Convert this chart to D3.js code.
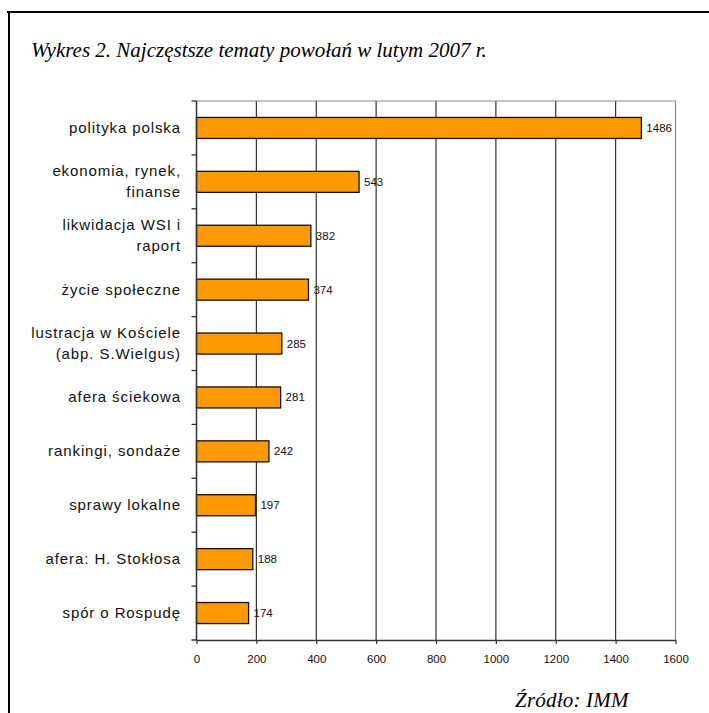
<!DOCTYPE html>
<html><head><meta charset="utf-8">
<script src="https://cdn.jsdelivr.net/npm/d3@7"></script>
<style>body{margin:0;background:#fff}svg{display:block}</style>
</head><body>
<script>
const categories = [
  ["polityka polska"],
  ["ekonomia, rynek,", "finanse"],
  ["likwidacja WSI i", "raport"],
  ["życie społeczne"],
  ["lustracja w Kościele", "(abp. S.Wielgus)"],
  ["afera ściekowa"],
  ["rankingi, sondaże"],
  ["sprawy lokalne"],
  ["afera: H. Stokłosa"],
  ["spór o Rospudę"]
];
const values = [1486, 543, 382, 374, 285, 281, 242, 197, 188, 174];
const xTicks = [0, 200, 400, 600, 800, 1000, 1200, 1400, 1600];
const title = "Wykres 2. Najczęstsze tematy powołań w lutym 2007 r.";
const source = "Źródło: IMM";

(function () {
const W = 709, H = 713;
const svg = d3.select("body").append("svg").attr("width", W).attr("height", H);

// frame
svg.append("line").attr("x1", 7).attr("x2", W).attr("y1", 12).attr("y2", 12).attr("stroke", "#000").attr("stroke-width", 2);
svg.append("line").attr("x1", 9).attr("x2", 9).attr("y1", 11).attr("y2", H).attr("stroke", "#000").attr("stroke-width", 2);

svg.append("text").attr("x", 31).attr("y", 57).attr("font-family", "Liberation Serif, Times New Roman, serif")
  .attr("font-style", "italic").attr("font-size", 21).attr("fill", "#000").text(title);
svg.append("text").attr("x", 515).attr("y", 707).attr("font-family", "Liberation Serif, Times New Roman, serif")
  .attr("font-style", "italic").attr("font-size", 21).attr("letter-spacing", 0.2).attr("fill", "#000").text(source);

const pL = 196.5, pR = 675.5, pT = 101, pB = 640;
const x = d3.scaleLinear().domain([0, 1600]).range([pL, pR]);
const idx = d3.range(values.length);
const y = d3.scaleBand().domain(idx).range([pT, pB]).paddingInner(0.61).paddingOuter(0.305);
const yb = d3.scaleBand().domain(idx).range([pT, pB]);

// gridlines
svg.append("g").selectAll("line").data(xTicks.slice(1)).join("line")
  .attr("x1", d => x(d)).attr("x2", d => x(d)).attr("y1", pT).attr("y2", pB)
  .attr("stroke", d => d === 1600 ? "#888" : "#333").attr("stroke-width", 1.2);
svg.append("line").attr("x1", pL).attr("x2", pR).attr("y1", pT).attr("y2", pT).attr("stroke", "#888").attr("stroke-width", 1);

// bars
svg.append("g").selectAll("rect").data(values).join("rect")
  .attr("x", x(0)).attr("y", (d, i) => y(i)).attr("width", d => x(d) - x(0)).attr("height", y.bandwidth())
  .attr("fill", "#FF9900").attr("stroke", "#111").attr("stroke-width", 1.3);

// value labels
svg.append("g").selectAll("text").data(values).join("text")
  .attr("x", d => x(d) + 5).attr("y", (d, i) => y(i) + y.bandwidth() / 2 + 4)
  .attr("font-family", "Liberation Sans, Arial, sans-serif").attr("font-size", 11.5).attr("fill", "#111")
  .text(d => d);

// x axis
const xAxis = d3.axisBottom(x).tickValues(xTicks).tickFormat(d3.format("d")).tickSize(4).tickSizeOuter(0).tickPadding(11);
const gx = svg.append("g").attr("transform", `translate(0,${pB})`).call(xAxis);
gx.select(".domain").attr("stroke", "#333").attr("stroke-width", 1.5);
gx.selectAll(".tick line").attr("stroke", "#333").attr("stroke-width", 1.2);
gx.selectAll("text").attr("font-family", "Liberation Sans, Arial, sans-serif").attr("font-size", 11.5).attr("fill", "#111");
svg.append("line").attr("x1", pL - 5).attr("x2", pL).attr("y1", pB).attr("y2", pB).attr("stroke", "#333").attr("stroke-width", 1.5);

// y axis line and ticks at band boundaries
svg.append("line").attr("x1", pL).attr("x2", pL).attr("y1", pT).attr("y2", pB).attr("stroke", "#333").attr("stroke-width", 1.5);
svg.append("g").selectAll("line").data(idx).join("line")
  .attr("x1", pL - 5).attr("x2", pL).attr("y1", i => yb(i)).attr("y2", i => yb(i))
  .attr("stroke", "#333").attr("stroke-width", 1.3);

// category labels
const lab = svg.append("g").selectAll("text").data(categories).join("text")
  .attr("text-anchor", "end").attr("font-family", "Liberation Sans, Arial, sans-serif")
  .attr("font-size", 15).attr("fill", "#111").attr("letter-spacing", 0.9)
  .attr("y", (d, i) => yb(i) + yb.bandwidth() / 2 + 5 - (d.length - 1) * 10.5);
lab.selectAll("tspan").data(d => d).join("tspan")
  .attr("x", 181).attr("dy", (d, j) => j === 0 ? 0 : 21).text(d => d);
})();
</script>
</body></html>
